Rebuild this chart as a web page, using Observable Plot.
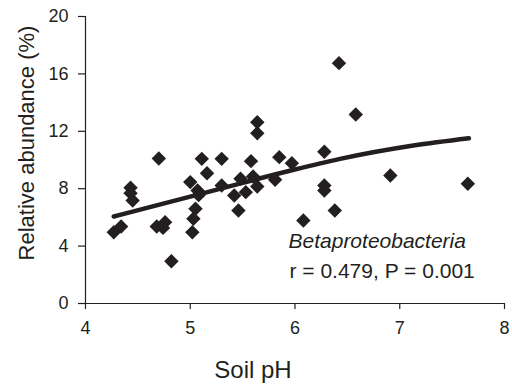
<!DOCTYPE html>
<html>
<head>
<meta charset="utf-8">
<script src="https://cdn.jsdelivr.net/npm/d3@7"></script>
<script src="https://cdn.jsdelivr.net/npm/@observablehq/plot@0.6"></script>
<style>
  html, body { margin: 0; padding: 0; background: #fff; }
  #chart { width: 512px; height: 387px; }
</style>
</head>
<body>
<div id="chart"></div>
<script>
// Soil pH (x) and relative abundance % (y) of each sample
const soilPH = [4.27, 4.34, 4.43, 4.43, 4.45, 4.70, 4.68, 4.76, 4.74, 4.82,
                5.00, 5.02, 5.03, 5.05, 5.07, 5.08, 5.11, 5.16, 5.30, 5.30,
                5.42, 5.48, 5.46, 5.53, 5.58, 5.60, 5.64, 5.64, 5.64, 5.81,
                5.85, 5.97, 6.08, 6.28, 6.28, 6.28, 6.38, 6.42, 6.58, 6.91, 7.65];
const abundance = [4.97, 5.37, 8.06, 7.69, 7.18, 10.1, 5.37, 5.67, 5.27, 2.95,
                   8.46, 4.97, 5.9, 6.6, 7.87, 7.55, 10.08, 9.08, 10.08, 8.22,
                   7.53, 8.69, 6.48, 7.76, 9.92, 8.85, 8.15, 12.63, 11.87, 8.62,
                   10.2, 9.78, 5.78, 10.58, 8.22, 7.87, 6.48, 16.75, 13.17, 8.92, 8.34];
// Trend line
const trendPH = [4.27, 5.0, 5.5, 5.96, 6.43, 7.13, 7.66];
const trendAbundance = [6.06, 7.45, 8.41, 9.27, 10.08, 11.01, 11.52];
// Tick labels
const xTicks = [4, 5, 6, 7, 8];
const yTicks = [0, 4, 8, 12, 16, 20];
// Texts
const xTitle = "Soil pH";
const yTitle = "Relative abundance (%)";
const taxon = "Betaproteobacteria";
const stats = "r = 0.479, P = 0.001";

const points = soilPH.map((x, i) => ({x, y: abundance[i]}));
const trend = trendPH.map((x, i) => ({x, y: trendAbundance[i]}));
const ink = "#231f20";

const chart = Plot.plot({
  width: 512,
  height: 387,
  marginLeft: 85,
  marginRight: 8,
  marginTop: 16,
  marginBottom: 84,
  style: {fontFamily: "'Liberation Sans', Arial, sans-serif", fontSize: "18px", color: ink, background: "#fff"},
  x: {domain: [4, 8]},
  y: {domain: [0, 20]},
  marks: [
    Plot.axisY({ticks: yTicks, tickFormat: d3.format("d"), tickSize: 7, tickPadding: 10, label: null, fontSize: 18, strokeWidth: 1.2}),
    Plot.axisX({ticks: xTicks, tickFormat: d3.format("d"), tickSize: 6, tickPadding: 12, label: null, fontSize: 18, strokeWidth: 1.2}),
    Plot.ruleX([4], {stroke: ink, strokeWidth: 1.2}),
    Plot.ruleY([0], {stroke: ink, strokeWidth: 1.2}),
    Plot.line(trend, {x: "x", y: "y", stroke: ink, strokeWidth: 4.5, curve: "monotone-x", strokeLinecap: "round"}),
    Plot.dot(points, {x: "x", y: "y", symbol: "diamond2", r: 6.5, fill: ink, stroke: "none"}),
    Plot.text([taxon], {frameAnchor: "bottom-left", dx: 203, dy: -56, text: d => d, textAnchor: "start", fontStyle: "italic", fontSize: 21, fill: ink}),
    Plot.text([stats], {frameAnchor: "bottom-left", dx: 204, dy: -26, text: d => d, textAnchor: "start", fontSize: 21, fill: ink}),
    Plot.text([xTitle], {frameAnchor: "bottom", dx: -42, dy: 74, text: d => d, fontSize: 24, fill: ink}),
    Plot.text([yTitle], {frameAnchor: "left", dx: -59, dy: -17, text: d => d, textAnchor: "middle", rotate: -90, fontSize: 22, fill: ink})
  ]
});
document.getElementById("chart").append(chart);
</script>
</body>
</html>
